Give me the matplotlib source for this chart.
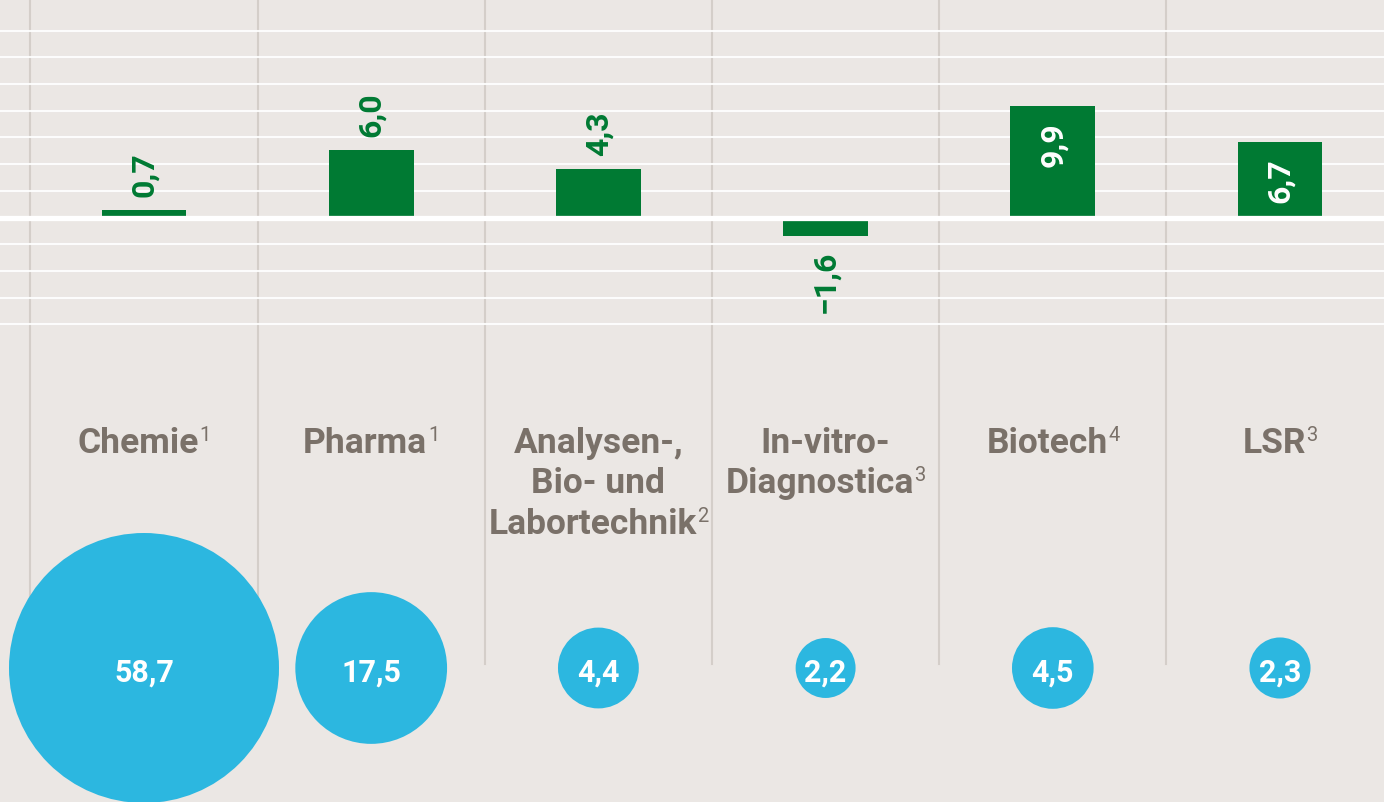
import matplotlib
matplotlib.use("Agg")
import matplotlib.pyplot as plt
from matplotlib.transforms import offset_copy

# ---------------- data ----------------
category_lines = [["Chemie"], ["Pharma"], ["Analysen-,", "Bio- und", "Labortechnik"],
                  ["In-vitro-", "Diagnostica"], ["Biotech"], ["LSR"]]
footnotes = ["1", "1", "2", "3", "4", "3"]
growth = [0.7, 6.0, 4.3, -1.6, 9.9, 6.7]
label_inside = [False, False, False, False, True, True]
share = [58.7, 17.5, 4.4, 2.2, 4.5, 2.3]

# ---------------- style ----------------
W, H, DPI = 1384, 803, 100
BG = "#ebe7e4"
GREEN = "#007a33"
BLUE = "#2cb7e0"
GREY = "#7a7169"
VLINE = "#d4cec9"
FONT = "Roboto"


def fmt(v):
    s = f"{abs(v):.1f}".replace(".", ",")
    return ("\u2212" if v < 0 else "") + s


fig = plt.figure(figsize=(W / DPI, H / DPI), dpi=DPI, facecolor=BG)

x0_px, step_px = 144.0, 227.2
xlim = (-x0_px / step_px, (W - x0_px) / step_px)
zero_px, unit_px = 218.5, 11.3
ylim = (-(H - zero_px) / unit_px, zero_px / unit_px)

# ---------------- bar axes ----------------
ax = fig.add_axes([0, 0, 1, 1])
ax.set_xlim(xlim)
ax.set_ylim(ylim)
ax.axis("off")

n = len(growth)
xs = list(range(n))

# column separators
line_bottom = 1 - 665 / H
for i in range(n):
    ax.axvline(i - 0.5, ymin=line_bottom, ymax=1, color=VLINE, lw=1.5, zorder=0.5)

# decorative horizontal rules
grid_step = 26.67 / unit_px
for k in range(-4, 8):
    if k == 0:
        continue
    ax.axhline(k * grid_step, color="white", lw=1.5, alpha=0.9, zorder=1)

ax.bar(xs, growth, width=0.374, color=GREEN, zorder=2)
ax.axhline(0, color="white", lw=3.8, zorder=3)

for i, v in enumerate(growth):
    kw = dict(rotation=90, ha="center", fontsize=23, fontweight="bold",
              family=FONT, textcoords="offset points", zorder=4)
    if label_inside[i]:
        ax.annotate(fmt(v), (i, v), xytext=(0, -11), va="top", color="white", **kw)
    elif v >= 0:
        ax.annotate(fmt(v), (i, v), xytext=(0, 10), va="bottom", color=GREEN, **kw)
    else:
        ax.annotate(fmt(v), (i, v), xytext=(0, -10), va="top", color=GREEN, **kw)

# ---------------- bubble axes ----------------
axb = fig.add_axes([0, 0, 1, 2 * (H - 669) / H])
axb.set_xlim(xlim)
axb.set_ylim(-1, 1)
axb.axis("off")
axb.scatter(xs, [0] * n, s=[599.3 * v for v in share], color=BLUE,
            edgecolor=BLUE, linewidths=6.84, zorder=5, clip_on=False)
for i, v in enumerate(share):
    axb.annotate(fmt(v), (i, 0), xytext=(0, -9.4), textcoords="offset points",
                 ha="center", va="baseline", color="white", fontsize=22,
                 fontweight="bold", family=FONT, zorder=6)

# ---------------- category labels ----------------
axt = fig.add_axes([0, 0, 1, 1])
axt.set_xlim(xlim)
axt.set_ylim(H, 0)
axt.axis("off")

first_baseline = 453
line_gap = 40.5
fs_cat = 25.5
fs_sup = 14.5
sup_raise = 12
gap = 0.5

renderer = fig.canvas.get_renderer()
for i, lines in enumerate(category_lines):
    for j, line in enumerate(lines):
        y = first_baseline + j * line_gap
        if j < len(lines) - 1:
            axt.text(i, y, line, ha="center", va="baseline", fontsize=fs_cat,
                     fontweight="bold", family=FONT, color=GREY)
            continue
        sup = axt.text(i, y, footnotes[i], ha="left", va="baseline",
                       fontsize=fs_sup, family=FONT, color=GREY)
        ws = sup.get_window_extent(renderer).width
        shift = -(ws + gap) / 2
        main = axt.text(i, y, line, ha="center", va="baseline", fontsize=fs_cat,
                        fontweight="bold", family=FONT, color=GREY,
                        transform=offset_copy(axt.transData, fig, x=shift, units="dots"))
        wm = main.get_window_extent(renderer).width
        sup.set_transform(offset_copy(axt.transData, fig, x=shift + wm / 2 + gap,
                                      y=sup_raise, units="dots"))

fig.savefig("out.png", dpi=DPI, facecolor=BG)
